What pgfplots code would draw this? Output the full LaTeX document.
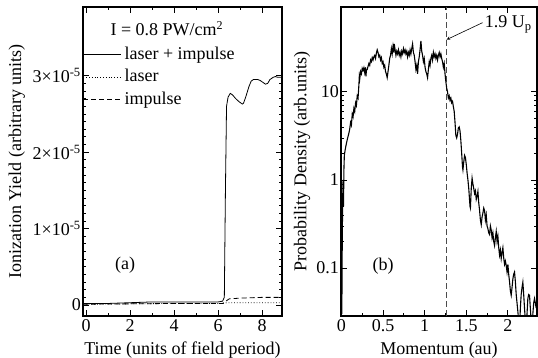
\documentclass[border=0pt]{standalone}
\usepackage{fontspec}
\setmainfont{Liberation Serif}
\usepackage{pgfplots}
\pgfplotsset{compat=1.18}
\begin{document}
\fontsize{18}{21.6}\selectfont
\begin{tikzpicture}
\pgfplotsset{
  every axis/.append style={
    scale only axis,
    axis line style={line width=1.2pt},
    every tick/.style={black, line width=0.8pt},
    major tick length=6pt,
    minor tick length=3pt,
    tick align=inside,
    /pgf/number format/assume math mode=true,
    xticklabel style={inner sep=1pt, yshift=-2pt},
    yticklabel style={inner sep=2pt},
  },
}
\begin{axis}[
  at={(83pt,42pt)}, anchor=south west,
  width=199pt, height=309pt,
  xmin=-0.14, xmax=8.9,
  ymin=-0.144, ymax=3.9,
  xtick={0,2,4,6,8},
  minor x tick num=1,
  ytick={0,1,2,3},
  yticklabels={0,1×10\textsuperscript{-5},2×10\textsuperscript{-5},3×10\textsuperscript{-5}},
  minor y tick num=9,
  xlabel={Time (units of field period)},
  ylabel={Ionization Yield (arbitrary units)},
  xlabel style={at={(axis description cs:0.5,-0.125)}, anchor=base},
  ylabel style={at={(axis description cs:-0.332,0.5)}, anchor=center, rotate=0},
  legend style={at={(axis description cs:0,0.882)}, anchor=north west,
    draw=none, fill=none, inner sep=0pt, outer sep=0pt,
    row sep=0pt, column sep=0pt,
    nodes={inner sep=2.75pt, text height=13pt, text depth=4pt}},
  legend cell align=left,
  legend image code/.code={\draw[#1] (0pt,0pt) -- (38pt,0pt);},
]
\addplot[black, line width=0.8pt] coordinates {
(-0.14,0.02) (0,0.02) (1,0.02) (2,0.03) (3,0.04) (4,0.04) (5,0.04) (6,0.04)
(6.2,0.05) (6.28,0.1) (6.33,1.5) (6.38,2.6) (6.45,2.72) (6.55,2.77) (6.65,2.75)
(6.8,2.7) (6.95,2.66) (7.1,2.63) (7.15,2.64) (7.25,2.72) (7.4,2.86) (7.5,2.93)
(7.6,2.95) (7.8,2.95) (7.9,2.94) (8.0,2.92) (8.15,2.89) (8.25,2.9) (8.35,2.95)
(8.5,2.98) (8.6,2.99) (8.7,2.98) (8.9,2.98)
};
\addlegendentry{laser + impulse}
\addplot[black, line width=0.8pt, dotted] coordinates {
(-0.14,0.01) (2,0.015) (4,0.02) (6.2,0.02) (6.4,0.03) (7,0.03) (8,0.03) (8.9,0.03)
};
\addlegendentry{laser}
\addplot[black, line width=0.8pt, dash pattern=on 5pt off 3pt] coordinates {
(-0.14,0.01) (2,0.015) (4,0.02) (6.2,0.02) (6.3,0.04) (6.5,0.08) (7,0.09) (8,0.1) (8.9,0.1)
};
\addlegendentry{impulse}
\node at (axis cs:3.66,3.62) {I = 0.8 PW/cm\raisebox{0.75ex}{\fontsize{12}{14}\selectfont 2}};
\node at (axis cs:1.77,0.52) {(a)};
\end{axis}

\begin{axis}[
  at={(341pt,42pt)}, anchor=south west,
  width=196pt, height=309pt,
  xmin=-0.005, xmax=2.35,
  ymode=log,
  ymin=0.0285, ymax=92,
  xtick={0,0.5,1,1.5,2},
  xticklabels={0,0.5,1,1.5,2},
  minor x tick num=1,
  ytick={0.1,1,10},
  yticklabels={0.1,1,10},
  xlabel={Momentum (au)},
  ylabel={Probability Density (arb.units)},
  xlabel style={at={(axis description cs:0.5,-0.125)}, anchor=base},
  ylabel style={at={(axis description cs:-0.199,0.5)}, anchor=center, rotate=0},
]
\addplot[black!70, line width=1pt, dash pattern=on 6pt off 3pt] coordinates {(1.26,0.0285) (1.26,92)};
\addplot[black, line width=1.1pt] coordinates {
(0.005,0.03) (0.01,0.2) (0.015,0.6) (0.02,1.0) (0.025,0.5) (0.03,1.3) (0.035,1.9)
(0.045,2.2) (0.06,2.6) (0.075,3.0) (0.09,3.4) (0.1,3.8) (0.11,4.5) (0.12,4.2)
(0.13,5.6) (0.14,5.2) (0.15,6.5) (0.16,6.0) (0.17,7.5) (0.18,7.0) (0.19,9.0)
(0.2,8.5) (0.21,12) (0.215,15) (0.22,14) (0.23,17) (0.24,16) (0.25,18.5)
(0.26,17.5) (0.27,18.8) (0.28,16.5) (0.29,19) (0.295,15) (0.30,17.5) (0.31,18)
(0.32,19.5) (0.33,21) (0.34,20) (0.35,23) (0.36,22) (0.37,24.5) (0.38,23)
(0.39,25) (0.40,26) (0.41,24) (0.42,27.5) (0.43,30) (0.44,28) (0.45,25)
(0.46,26) (0.47,23) (0.48,24.5) (0.49,21) (0.50,22) (0.51,19) (0.52,20)
(0.53,17) (0.54,16) (0.55,14.5) (0.56,17) (0.57,20) (0.58,24) (0.59,26)
(0.60,31) (0.61,27) (0.62,33) (0.63,28) (0.635,35) (0.645,30) (0.655,26)
(0.665,29) (0.675,27) (0.685,30) (0.695,26) (0.705,28) (0.715,25) (0.725,29)
(0.735,27) (0.745,31) (0.755,28) (0.765,30) (0.775,27) (0.785,29) (0.795,25)
(0.805,28) (0.815,26) (0.825,30) (0.835,27) (0.845,31) (0.855,35) (0.865,28)
(0.875,26) (0.885,22) (0.895,18) (0.905,20) (0.915,16) (0.925,22) (0.935,25)
(0.945,30) (0.955,38) (0.965,29) (0.975,26) (0.985,22) (0.995,24) (1.005,19)
(1.015,17) (1.025,16) (1.035,14.5) (1.045,18) (1.055,22) (1.065,20) (1.075,24)
(1.085,26) (1.095,23) (1.105,28) (1.115,25) (1.125,27) (1.135,24) (1.145,26)
(1.155,23) (1.165,26) (1.175,28) (1.185,25) (1.195,27) (1.205,24) (1.215,22)
(1.225,19) (1.235,21) (1.245,16) (1.255,13) (1.265,11) (1.275,10) (1.285,8.5)
(1.295,9) (1.305,8.0) (1.315,8.5) (1.325,7.5) (1.335,7.8) (1.345,6.8) (1.355,6.0)
(1.365,4.5) (1.375,3.2) (1.385,3.0) (1.395,3.3) (1.405,3.9) (1.415,4.0)
(1.425,3.6) (1.435,2.8) (1.445,2.0) (1.455,1.4) (1.46,1.3) (1.47,1.6) (1.48,1.9)
(1.49,1.8) (1.50,1.5) (1.51,1.2) (1.52,1.0) (1.53,0.8) (1.545,0.5) (1.55,0.48)
(1.56,0.8) (1.57,1.05) (1.58,0.9) (1.59,0.8) (1.60,0.7) (1.61,0.75) (1.62,0.6)
(1.63,0.65) (1.64,0.74) (1.65,0.55) (1.66,0.45) (1.67,0.35) (1.68,0.31)
(1.69,0.38) (1.70,0.42) (1.71,0.48) (1.72,0.45) (1.73,0.35) (1.74,0.4)
(1.75,0.3) (1.76,0.28) (1.77,0.25) (1.78,0.24) (1.79,0.3) (1.80,0.27)
(1.81,0.22) (1.82,0.25) (1.83,0.2) (1.84,0.18) (1.85,0.22) (1.86,0.26)
(1.87,0.2) (1.88,0.23) (1.89,0.17) (1.90,0.14) (1.91,0.16) (1.92,0.128)
(1.93,0.15) (1.94,0.17) (1.95,0.13) (1.96,0.11) (1.97,0.12) (1.98,0.107)
(1.99,0.09) (2.00,0.11) (2.01,0.085) (2.02,0.07) (2.03,0.055) (2.04,0.049)
(2.05,0.06) (2.06,0.075) (2.07,0.085) (2.08,0.09) (2.09,0.07) (2.10,0.05)
(2.11,0.04) (2.12,0.032) (2.13,0.025) (2.14,0.02) (2.15,0.035) (2.16,0.05)
(2.17,0.06) (2.18,0.069) (2.19,0.05) (2.20,0.035) (2.21,0.025) (2.22,0.02)
(2.23,0.03) (2.24,0.045) (2.25,0.05) (2.26,0.049) (2.27,0.035) (2.28,0.025)
(2.29,0.02) (2.30,0.03) (2.31,0.04) (2.32,0.045) (2.33,0.04) (2.34,0.035)
};
\draw[-stealth, line width=0.6pt] (axis cs:1.695,61) -- (axis cs:1.264,39.2);
\node[anchor=west, inner sep=0pt] at (axis cs:1.72,58) {1.9 U\textsubscript{p}};
\node at (axis cs:0.5,0.106) {(b)};
\end{axis}
\pgfresetboundingbox
\path[use as bounding box] (0pt,0pt) rectangle (538pt,358pt);
\end{tikzpicture}
\end{document}
